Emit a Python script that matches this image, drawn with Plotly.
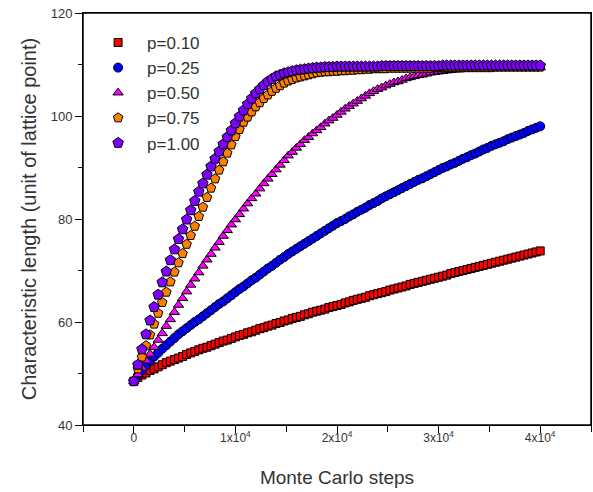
import plotly.graph_objects as go

steps = list(range(0, 40001, 400))

labels = ["p=0.10", "p=0.25", "p=0.50", "p=0.75", "p=1.00"]

p010 = [48.5, 49.2, 49.7, 50.1, 50.6, 50.9, 51.3, 51.7, 52.1, 52.4,
        52.7, 53.0, 53.3, 53.7, 54.0, 54.3, 54.6, 54.9, 55.1, 55.4,
        55.7, 56.0, 56.3, 56.5, 56.8, 57.1, 57.4, 57.6, 57.9, 58.1,
        58.4, 58.7, 58.9, 59.2, 59.4, 59.7, 59.9, 60.2, 60.4, 60.7,
        60.9, 61.1, 61.4, 61.6, 61.9, 62.1, 62.3, 62.5, 62.8, 63.0,
        63.2, 63.4, 63.7, 63.9, 64.2, 64.4, 64.6, 64.8, 65.1, 65.3,
        65.5, 65.7, 65.9, 66.2, 66.4, 66.6, 66.8, 67.0, 67.3, 67.5,
        67.7, 67.9, 68.1, 68.3, 68.5, 68.7, 68.9, 69.1, 69.4, 69.6,
        69.8, 70.0, 70.2, 70.4, 70.6, 70.8, 71.0, 71.2, 71.4, 71.6,
        71.8, 72.0, 72.2, 72.4, 72.6, 72.8, 73.0, 73.2, 73.4, 73.6,
        73.8]

p025 = [48.5, 49.6, 50.6, 51.6, 52.5, 53.3, 54.0, 54.8, 55.5, 56.2,
        56.9, 57.6, 58.2, 58.8, 59.4, 60.0, 60.5, 61.1, 61.7, 62.3,
        62.9, 63.5, 64.0, 64.6, 65.2, 65.8, 66.4, 66.9, 67.5, 68.1,
        68.6, 69.2, 69.8, 70.4, 70.9, 71.5, 72.1, 72.6, 73.2, 73.7,
        74.2, 74.7, 75.2, 75.7, 76.2, 76.7, 77.2, 77.7, 78.2, 78.7,
        79.2, 79.6, 80.0, 80.5, 80.9, 81.4, 81.8, 82.2, 82.7, 83.1,
        83.5, 84.0, 84.4, 84.8, 85.2, 85.6, 86.0, 86.4, 86.8, 87.2,
        87.6, 87.9, 88.3, 88.7, 89.1, 89.5, 89.9, 90.2, 90.6, 90.9,
        91.3, 91.7, 92.0, 92.4, 92.7, 93.1, 93.5, 93.8, 94.2, 94.5,
        94.8, 95.1, 95.5, 95.8, 96.1, 96.4, 96.7, 97.1, 97.4, 97.7,
        98.0]

p050 = [48.5, 49.8, 51.1, 52.5, 53.8, 55.1, 56.5, 57.8, 59.2, 60.5,
        61.9, 63.3, 64.6, 65.9, 67.2, 68.4, 69.6, 70.9, 72.1, 73.2,
        74.4, 75.5, 76.7, 77.8, 78.9, 79.9, 80.9, 82.0, 83.0, 84.0,
        84.9, 85.9, 86.9, 87.8, 88.7, 89.6, 90.5, 91.4, 92.3, 93.0,
        93.8, 94.5, 95.3, 95.9, 96.6, 97.2, 97.8, 98.5, 99.1, 99.6,
        100.2, 100.8, 101.4, 101.9, 102.4, 102.9, 103.4, 103.9, 104.4, 104.8,
        105.2, 105.5, 105.9, 106.2, 106.5, 106.7, 107.0, 107.3, 107.5, 107.7,
        107.9, 108.0, 108.2, 108.4, 108.5, 108.6, 108.7, 108.8, 108.9, 109.0,
        109.0, 109.1, 109.1, 109.2, 109.2, 109.2, 109.3, 109.3, 109.3, 109.3,
        109.3, 109.4, 109.4, 109.4, 109.4, 109.4, 109.4, 109.4, 109.4, 109.4,
        109.4]

p075 = [48.5, 50.9, 53.2, 55.4, 57.5, 59.6, 61.7, 63.8, 65.8, 67.8,
        69.7, 71.5, 73.3, 75.1, 76.8, 78.6, 80.5, 82.3, 84.2, 86.0,
        87.8, 89.5, 91.1, 92.8, 94.4, 96.0, 97.4, 98.8, 99.8, 100.8,
        101.8, 102.6, 103.4, 104.1, 104.8, 105.4, 105.9, 106.4, 106.8, 107.1,
        107.4, 107.6, 107.8, 108.0, 108.2, 108.4, 108.5, 108.6, 108.6, 108.7,
        108.7, 108.8, 108.8, 108.9, 108.9, 109.0, 109.0, 109.1, 109.1, 109.2,
        109.2, 109.2, 109.2, 109.3, 109.3, 109.3, 109.3, 109.3, 109.3, 109.3,
        109.3, 109.3, 109.3, 109.3, 109.4, 109.4, 109.4, 109.4, 109.4, 109.4,
        109.4, 109.4, 109.4, 109.4, 109.4, 109.4, 109.4, 109.4, 109.4, 109.5,
        109.5, 109.5, 109.5, 109.5, 109.5, 109.5, 109.5, 109.5, 109.5, 109.5,
        109.5]

p100 = [48.5, 51.7, 54.7, 57.6, 60.3, 62.9, 65.3, 67.7, 69.8, 72.0,
        74.1, 76.1, 78.0, 79.9, 81.7, 83.5, 85.3, 86.9, 88.6, 90.2,
        91.7, 93.1, 94.5, 95.9, 97.2, 98.6, 99.9, 101.1, 102.3, 103.4,
        104.4, 105.2, 106.0, 106.7, 107.2, 107.7, 108.0, 108.3, 108.5, 108.7,
        108.9, 109.0, 109.1, 109.2, 109.3, 109.4, 109.4, 109.5, 109.5, 109.5,
        109.6, 109.6, 109.6, 109.6, 109.6, 109.6, 109.6, 109.6, 109.6, 109.6,
        109.6, 109.7, 109.7, 109.7, 109.7, 109.7, 109.7, 109.7, 109.7, 109.7,
        109.7, 109.7, 109.7, 109.7, 109.7, 109.7, 109.8, 109.8, 109.8, 109.8,
        109.8, 109.8, 109.8, 109.8, 109.8, 109.8, 109.8, 109.8, 109.8, 109.8,
        109.8, 109.8, 109.8, 109.8, 109.8, 109.8, 109.8, 109.8, 109.8, 109.8,
        109.8]

x_tickvals = [0, 10000, 20000, 30000, 40000]
x_ticktext = ["0", "1x10<sup>4</sup>", "2x10<sup>4</sup>", "3x10<sup>4</sup>", "4x10<sup>4</sup>"]
y_tickvals = [40, 60, 80, 100, 120]

series = [p010, p025, p050, p075, p100]
colors = ["#ff0000", "#0000ff", "#ff00ff", "#ff8000", "#8000ff"]
symbols = ["square", "circle", "triangle-up", "pentagon", "pentagon"]
sizes = [8, 9, 9, 10, 11]

fig = go.Figure()
for lab, ys, c, s, sz in zip(labels, series, colors, symbols, sizes):
    fig.add_trace(go.Scatter(
        x=steps, y=ys, mode="markers", name=lab,
        marker=dict(symbol=s, size=sz, color=c, line=dict(color="#000000", width=1)),
    ))

font_family = "Liberation Sans, Arial, sans-serif"
fig.update_layout(
    width=593, height=492,
    margin=dict(l=83, r=2, t=13, b=67, autoexpand=False),
    paper_bgcolor="white", plot_bgcolor="white",
    font=dict(family=font_family, color="#333333", size=13),
    showlegend=True,
    legend=dict(x=0.012, y=0.971, xanchor="left", yanchor="top",
                font=dict(size=17, color="#333333"), itemwidth=48,
                bgcolor="rgba(0,0,0,0)"),
    shapes=[dict(type="rect", xref="paper", yref="paper", x0=0, x1=1, y0=0, y1=1,
                 line=dict(color="#000000", width=1.5), fillcolor="rgba(0,0,0,0)", layer="above")],
)
fig.update_xaxes(
    range=[-5000, 45000], tickvals=x_tickvals, ticktext=x_ticktext,
    automargin=False,
    ticks="outside", ticklen=7, tickwidth=1, tickcolor="#000",
    ticklabelstandoff=-5,
    minor=dict(dtick=5000, tick0=0, ticks="outside", ticklen=6, tickwidth=1, tickcolor="#000"),
    showline=True, linecolor="#000", linewidth=1, mirror=True,
    showgrid=False, zeroline=False,
    tickfont=dict(size=12),
    title=dict(text="Monte Carlo steps", font=dict(size=19), standoff=26),
)
fig.update_yaxes(
    range=[40, 120], tickvals=y_tickvals,
    automargin=False,
    ticks="outside", ticklen=7, tickwidth=1, tickcolor="#000",
    minor=dict(dtick=10, tick0=40, ticks="outside", ticklen=4, tickwidth=1, tickcolor="#000"),
    showline=True, linecolor="#000", linewidth=1, mirror=True,
    showgrid=False, zeroline=False,
    tickfont=dict(size=13),
    title=dict(text="Characteristic length (unit of lattice point)", font=dict(size=20), standoff=8),
)

fig.write_html("out.html", config={"displayModeBar": False},
               post_script="document.body.style.margin='0';document.body.style.overflow='hidden';")
